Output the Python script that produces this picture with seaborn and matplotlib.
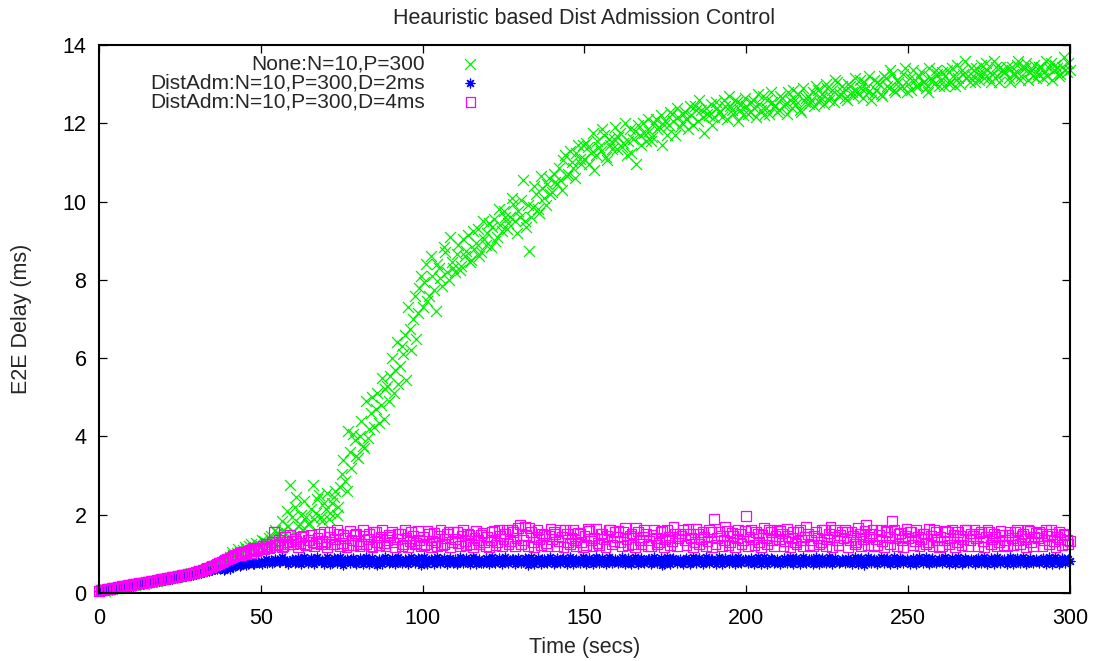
import numpy as np
import pandas as pd
import matplotlib
matplotlib.use("Agg")
import matplotlib.pyplot as plt
import seaborn as sns

# Two samples per second: on the whole second and on the half second
time_s = list(range(0, 301))
time_half = [t + 0.5 for t in range(0, 300)]

# E2E delay (ms) without admission control
none_delay = [
    0.05, 0.08, 0.06, 0.10, 0.11, 0.12, 0.14, 0.15, 0.17, 0.18,
    0.20, 0.21, 0.22, 0.25, 0.24, 0.27, 0.29, 0.30, 0.31, 0.34,
    0.36, 0.35, 0.38, 0.40, 0.41, 0.44, 0.45, 0.46, 0.49, 0.50,
    0.52, 0.55, 0.58, 0.60, 0.64, 0.66, 0.70, 0.74, 0.78, 0.82,
    0.88, 1.05, 0.95, 1.12, 1.00, 1.18, 1.08, 1.25, 1.15, 1.22,
    1.20, 1.32, 1.28, 1.45, 1.30, 1.52, 1.38, 1.60, 2.10, 2.75,
    1.55, 2.45, 1.75, 1.62, 1.95, 1.80, 2.75, 2.05, 2.50, 1.85,
    2.15, 1.90, 2.30, 2.60, 2.20, 3.05, 2.85, 4.15, 3.20, 3.90,
    3.45, 4.40, 3.70, 3.95, 4.60, 4.25, 5.10, 4.80, 4.45, 5.30,
    5.55, 5.10, 6.40, 5.80, 6.10, 5.45, 6.75, 7.00, 6.50, 7.80,
    7.30, 8.40, 7.60, 8.10, 7.20, 8.30, 7.85, 8.70, 8.00, 8.45,
    8.20, 8.90, 8.35, 8.60, 9.15, 8.50, 8.80, 9.30, 8.70, 9.05,
    9.20, 8.85, 9.55, 9.10, 9.40, 9.75, 9.30, 9.60, 9.95, 9.20,
    9.60, 10.55, 9.35, 8.75, 9.85, 10.20, 9.70, 10.35, 9.90, 10.60,
    10.25, 10.50, 10.85, 10.30, 11.20, 10.70, 11.00, 10.60, 11.45, 10.95,
    11.10, 11.40, 11.25, 10.80, 11.55, 11.30, 11.70, 11.05, 11.45, 11.60,
    11.35, 11.75, 11.50, 11.20, 11.85, 11.60, 10.95, 11.70, 12.00, 11.55,
    11.80, 11.65, 12.10, 11.90, 11.45, 12.05, 11.95, 12.25, 11.70, 12.15,
    12.00, 12.30, 11.85, 12.20, 12.45, 12.05, 12.35, 11.75, 12.25, 12.50,
    12.15, 12.40, 12.30, 12.60, 12.10, 12.45, 12.25, 12.55, 12.35, 12.20,
    12.45, 12.30, 12.60, 12.15, 12.50, 12.70, 12.40, 12.25, 12.55, 12.45,
    12.35, 12.65, 12.50, 12.80, 12.40, 12.60, 12.75, 12.30, 12.55, 12.70,
    12.60, 12.45, 12.85, 12.65, 12.50, 12.90, 12.70, 12.55, 13.05, 12.75,
    12.80, 12.60, 12.95, 12.70, 12.85, 13.10, 12.65, 12.90, 13.20, 12.75,
    12.85, 13.00, 12.70, 13.15, 12.90, 13.25, 12.80, 13.05, 12.95, 13.40,
    13.00, 12.85, 13.10, 12.95, 13.30, 13.05, 12.80, 13.15, 13.00, 13.25,
    13.10, 12.95, 13.35, 13.05, 13.20, 13.50, 13.00, 13.25, 13.15, 13.05,
    13.20, 13.40, 13.10, 13.30, 13.55, 13.15, 13.25, 13.45, 13.05, 13.35,
    13.30, 13.15, 13.45, 13.25, 13.60, 13.20, 13.40, 13.10, 13.35, 13.50,
    13.25, 13.45, 13.30, 13.20, 13.55, 13.35, 13.40, 13.25, 13.70, 13.30,
    13.35,
]
none_delay_half = [
    0.07, 0.09, 0.08, 0.11, 0.13, 0.13, 0.16, 0.16, 0.18, 0.19,
    0.21, 0.22, 0.24, 0.25, 0.26, 0.28, 0.29, 0.31, 0.33, 0.35,
    0.36, 0.38, 0.39, 0.41, 0.43, 0.44, 0.46, 0.48, 0.50, 0.51,
    0.54, 0.57, 0.59, 0.62, 0.65, 0.68, 0.72, 0.76, 0.80, 0.85,
    0.92, 0.98, 1.02, 1.05, 1.10, 1.12, 1.20, 1.15, 1.28, 1.18,
    1.35, 1.25, 1.40, 1.30, 1.62, 1.45, 1.85, 1.50, 1.70, 1.95,
    2.20, 1.70, 2.00, 2.35, 1.75, 2.15, 1.90, 2.40, 1.95, 2.30,
    2.55, 2.05, 2.45, 2.00, 2.70, 3.40, 2.60, 3.60, 4.05, 3.50,
    4.00, 3.75, 4.90, 4.20, 5.00, 4.70, 4.35, 5.50, 5.20, 4.90,
    6.00, 5.70, 5.35, 6.30, 6.60, 7.30, 6.20, 7.60, 7.15, 8.10,
    7.95, 7.45, 8.60, 7.75, 8.40, 8.05, 8.85, 8.20, 9.10, 8.30,
    8.65, 8.25, 9.05, 8.75, 8.45, 9.25, 8.95, 8.60, 9.50, 8.90,
    9.45, 9.35, 9.00, 9.80, 9.25, 9.60, 9.45, 10.10, 9.50, 9.75,
    10.05, 9.50, 9.90, 9.60, 10.40, 9.80, 10.65, 10.10, 10.45, 10.20,
    10.70, 10.45, 10.55, 11.05, 10.65, 11.30, 10.85, 11.25, 11.10, 11.45,
    11.50, 10.95, 11.75, 11.20, 11.40, 11.85, 11.15, 11.60, 11.35, 11.90,
    11.65, 11.40, 12.00, 11.55, 11.25, 11.80, 11.95, 11.45, 11.75, 12.10,
    11.55, 12.00, 11.85, 12.20, 11.95, 11.70, 12.30, 12.05, 12.40, 11.90,
    12.25, 12.10, 12.45, 11.95, 12.35, 12.60, 12.15, 12.40, 12.20, 11.95,
    12.55, 12.30, 12.15, 12.45, 12.70, 12.35, 12.60, 12.05, 12.50, 12.65,
    12.25, 12.55, 12.40, 12.75, 12.35, 12.20, 12.60, 12.80, 12.45, 12.30,
    12.70, 12.45, 12.25, 12.60, 12.85, 12.50, 12.35, 12.90, 12.65, 12.50,
    12.80, 12.95, 12.55, 12.75, 13.00, 12.60, 12.85, 13.10, 12.70, 12.95,
    12.65, 13.00, 12.80, 13.15, 12.75, 12.90, 13.05, 12.80, 12.60, 13.10,
    13.05, 12.75, 13.20, 12.95, 13.35, 12.85, 13.10, 12.90, 13.25, 12.80,
    13.15, 13.35, 12.95, 13.20, 13.05, 12.90, 13.40, 13.10, 13.35, 12.95,
    13.30, 13.20, 13.00, 13.40, 12.95, 13.15, 13.35, 13.60, 13.20, 13.40,
    13.05, 13.25, 13.50, 13.15, 13.35, 13.05, 13.60, 13.20, 13.45, 13.30,
    13.45, 13.05, 13.25, 13.50, 13.10, 13.40, 13.55, 13.30, 13.20, 13.15,
    13.45, 13.15, 13.60, 13.40, 13.10, 13.50, 13.20, 13.45, 13.35, 13.55,
]

# E2E delay (ms) with distributed admission, D=2ms
dist2_delay = [
    0.04, 0.06, 0.07, 0.08, 0.10, 0.11, 0.13, 0.14, 0.16, 0.17,
    0.19, 0.20, 0.22, 0.23, 0.25, 0.26, 0.28, 0.29, 0.31, 0.32,
    0.34, 0.35, 0.37, 0.38, 0.40, 0.41, 0.43, 0.44, 0.46, 0.47,
    0.49, 0.51, 0.53, 0.55, 0.57, 0.59, 0.61, 0.63, 0.64, 0.62,
    0.66, 0.70, 0.68, 0.73, 0.71, 0.76, 0.74, 0.78, 0.75, 0.80,
    0.79, 0.82, 0.77, 0.84, 0.80, 0.83, 0.78, 0.85, 0.81, 0.79,
    0.83, 0.80, 0.86, 0.78, 0.84, 0.81, 0.88, 0.79, 0.83, 0.85,
    0.80, 0.84, 0.77, 0.86, 0.82, 0.79, 0.85, 0.81, 0.87, 0.80,
    0.83, 0.78, 0.86, 0.82, 0.80, 0.85, 0.72, 0.84, 0.81, 0.86,
    0.79, 0.83, 0.88, 0.80, 0.82, 0.85, 0.78, 0.84, 0.81, 0.87,
    0.82, 0.79, 0.85, 0.83, 0.80, 0.86, 0.81, 0.78, 0.84, 0.82,
    0.87, 0.80, 0.83, 0.79, 0.85, 0.82, 0.88, 0.81, 0.77, 0.84,
    0.82, 0.86, 0.80, 0.83, 0.79, 0.85, 0.81, 0.84, 0.88, 0.80,
    0.83, 0.78, 0.86, 0.82, 0.80, 0.84, 0.81, 0.87, 0.79, 0.83,
    0.85, 0.80, 0.82, 0.86, 0.78, 0.84, 0.81, 0.83, 0.79, 0.86,
    0.82, 0.80, 0.85, 0.83, 0.88, 0.79, 0.84, 0.81, 0.86, 0.80,
    0.83, 0.78, 0.85, 0.82, 0.80, 0.87, 0.81, 0.84, 0.79, 0.83,
    0.86, 0.80, 0.82, 0.85, 0.71, 0.83, 0.80, 0.86, 0.81, 0.84,
    0.79, 0.85, 0.82, 0.80, 0.87, 0.83, 0.78, 0.84, 0.81, 0.86,
    0.80, 0.83, 0.85, 0.79, 0.82, 0.86, 0.81, 0.84, 0.78, 0.83,
    0.85, 0.80, 0.82, 0.87, 0.79, 0.84, 0.81, 0.83, 0.86, 0.80,
    0.82, 0.85, 0.79, 0.83, 0.80, 0.86, 0.81, 0.84, 0.78, 0.82,
    0.86, 0.80, 0.83, 0.85, 0.79, 0.82, 0.87, 0.81, 0.84, 0.80,
    0.83, 0.78, 0.85, 0.82, 0.80, 0.86, 0.81, 0.84, 0.79, 0.83,
    0.85, 0.81, 0.82, 0.87, 0.79, 0.84, 0.80, 0.83, 0.86, 0.81,
    0.82, 0.85, 0.79, 0.83, 0.81, 0.86, 0.80, 0.84, 0.78, 0.82,
    0.86, 0.81, 0.83, 0.85, 0.80, 0.82, 0.87, 0.79, 0.84, 0.81,
    0.83, 0.86, 0.80, 0.82, 0.85, 0.79, 0.84, 0.81, 0.87, 0.83,
    0.80, 0.84, 0.82, 0.86, 0.79, 0.83, 0.81, 0.85, 0.80, 0.84,
    0.82, 0.87, 0.80, 0.83, 0.85, 0.81, 0.84, 0.79, 0.86, 0.83,
    0.82,
]
dist2_delay_half = [
    0.05, 0.07, 0.07, 0.09, 0.11, 0.12, 0.13, 0.15, 0.16, 0.18,
    0.19, 0.21, 0.22, 0.24, 0.25, 0.27, 0.28, 0.30, 0.31, 0.33,
    0.34, 0.36, 0.37, 0.39, 0.40, 0.42, 0.43, 0.45, 0.46, 0.48,
    0.50, 0.52, 0.54, 0.56, 0.58, 0.60, 0.62, 0.60, 0.58, 0.64,
    0.62, 0.67, 0.72, 0.69, 0.75, 0.72, 0.78, 0.73, 0.80, 0.77,
    0.74, 0.86, 0.80, 0.76, 0.88, 0.79, 0.91, 0.82, 0.75, 0.87,
    0.76, 0.90, 0.74, 0.92, 0.77, 0.89, 0.73, 0.91, 0.78, 0.75,
    0.91, 0.74, 0.89, 0.76, 0.93, 0.72, 0.88, 0.77, 0.90, 0.74,
    0.89, 0.75, 0.92, 0.73, 0.90, 0.77, 0.88, 0.74, 0.93, 0.76,
    0.90, 0.73, 0.91, 0.76, 0.88, 0.74, 0.92, 0.77, 0.89, 0.72,
    0.91, 0.75, 0.88, 0.73, 0.92, 0.76, 0.90, 0.74, 0.89, 0.77,
    0.73, 0.91, 0.76, 0.89, 0.74, 0.93, 0.75, 0.88, 0.77, 0.90,
    0.74, 0.92, 0.76, 0.89, 0.73, 0.91, 0.77, 0.88, 0.75, 0.90,
    0.76, 0.89, 0.72, 0.92, 0.75, 0.90, 0.74, 0.88, 0.77, 0.91,
    0.73, 0.90, 0.76, 0.89, 0.74, 0.92, 0.75, 0.88, 0.77, 0.91,
    0.75, 0.89, 0.73, 0.91, 0.76, 0.90, 0.74, 0.92, 0.77, 0.88,
    0.76, 0.91, 0.74, 0.89, 0.75, 0.92, 0.73, 0.90, 0.77, 0.88,
    0.74, 0.91, 0.76, 0.89, 0.73, 0.92, 0.75, 0.90, 0.77, 0.88,
    0.75, 0.90, 0.74, 0.92, 0.76, 0.89, 0.73, 0.91, 0.77, 0.88,
    0.74, 0.92, 0.75, 0.89, 0.76, 0.90, 0.73, 0.91, 0.77, 0.88,
    0.76, 0.89, 0.74, 0.91, 0.75, 0.92, 0.73, 0.90, 0.77, 0.88,
    0.74, 0.90, 0.76, 0.92, 0.73, 0.89, 0.75, 0.91, 0.77, 0.88,
    0.75, 0.91, 0.74, 0.89, 0.76, 0.92, 0.73, 0.90, 0.77, 0.88,
    0.76, 0.90, 0.74, 0.92, 0.75, 0.89, 0.72, 0.91, 0.77, 0.88,
    0.74, 0.91, 0.76, 0.89, 0.73, 0.92, 0.75, 0.90, 0.77, 0.88,
    0.75, 0.89, 0.74, 0.91, 0.76, 0.92, 0.73, 0.90, 0.77, 0.88,
    0.76, 0.91, 0.74, 0.89, 0.75, 0.92, 0.73, 0.90, 0.77, 0.88,
    0.74, 0.90, 0.76, 0.92, 0.73, 0.89, 0.75, 0.91, 0.77, 0.88,
    0.75, 0.91, 0.74, 0.89, 0.76, 0.92, 0.73, 0.90, 0.77, 0.88,
    0.76, 0.90, 0.74, 0.91, 0.75, 0.92, 0.73, 0.89, 0.77, 0.88,
]

# E2E delay (ms) with distributed admission, D=4ms
dist4_delay = [
    0.06, 0.08, 0.09, 0.11, 0.12, 0.14, 0.15, 0.17, 0.18, 0.20,
    0.21, 0.23, 0.24, 0.26, 0.27, 0.29, 0.30, 0.32, 0.33, 0.35,
    0.36, 0.38, 0.39, 0.41, 0.42, 0.44, 0.45, 0.47, 0.49, 0.51,
    0.53, 0.56, 0.58, 0.62, 0.65, 0.68, 0.72, 0.76, 0.80, 0.84,
    0.88, 0.92, 0.96, 1.00, 0.98, 1.05, 1.08, 1.02, 1.12, 1.10,
    1.15, 1.12, 1.20, 1.18, 1.55, 1.22, 1.26, 1.20, 1.30, 1.48,
    1.25, 1.32, 1.28, 1.45, 1.22, 1.35, 1.30, 1.27, 1.50, 1.33,
    1.30, 1.42, 1.25, 1.38, 1.52, 1.28, 1.40, 1.22, 1.35, 1.48,
    1.32, 1.26, 1.45, 1.38, 1.20, 1.55, 1.30, 1.42, 1.27, 1.36,
    1.44, 1.29, 1.38, 1.52, 1.24, 1.40, 1.33, 1.47, 1.28, 1.36,
    1.42, 1.25, 1.50, 1.34, 1.30, 1.45, 1.22, 1.39, 1.56, 1.31,
    1.37, 1.28, 1.46, 1.33, 1.52, 1.26, 1.40, 1.35, 1.48, 1.30,
    1.43, 1.36, 1.58, 1.29, 1.45, 1.38, 1.62, 1.32, 1.55, 1.40,
    1.75, 1.35, 1.48, 1.66, 1.30, 1.42, 1.37, 1.52, 1.27, 1.45,
    1.38, 1.50, 1.32, 1.44, 1.60, 1.29, 1.41, 1.35, 1.54, 1.31,
    1.46, 1.64, 1.34, 1.40, 1.28, 1.52, 1.37, 1.45, 1.62, 1.33,
    1.42, 1.30, 1.55, 1.38, 1.47, 1.26, 1.66, 1.36, 1.43, 1.51,
    1.34, 1.48, 1.40, 1.29, 1.58, 1.37, 1.44, 1.32, 1.52, 1.39,
    1.46, 1.35, 1.63, 1.41, 1.30, 1.50, 1.38, 1.44, 1.33, 1.55,
    1.88, 1.40, 1.47, 1.36, 1.58, 1.31, 1.45, 1.39, 1.52, 1.34,
    1.97, 1.42, 1.37, 1.56, 1.30, 1.48, 1.40, 1.62, 1.35, 1.45,
    1.38, 1.52, 1.33, 1.46, 1.41, 1.29, 1.57, 1.36, 1.44, 1.50,
    1.35, 1.47, 1.40, 1.31, 1.60, 1.38, 1.68, 1.43, 1.34, 1.49,
    1.41, 1.55, 1.36, 1.45, 1.30, 1.50, 1.38, 1.74, 1.44, 1.62,
    1.37, 1.48, 1.33, 1.58, 1.42, 1.83, 1.39, 1.51, 1.35, 1.46,
    1.40, 1.56, 1.32, 1.44, 1.38, 1.52, 1.29, 1.47, 1.62, 1.36,
    1.43, 1.34, 1.55, 1.40, 1.48, 1.31, 1.45, 1.38, 1.60, 1.35,
    1.46, 1.39, 1.52, 1.33, 1.44, 1.57, 1.37, 1.42, 1.30, 1.49,
    1.36, 1.48, 1.41, 1.55, 1.34, 1.45, 1.38, 1.62, 1.31, 1.43,
    1.40, 1.52, 1.35, 1.46, 1.60, 1.33, 1.44, 1.38, 1.50, 1.36,
    1.32,
]
dist4_delay_half = [
    0.07, 0.08, 0.10, 0.11, 0.13, 0.14, 0.16, 0.17, 0.19, 0.20,
    0.22, 0.23, 0.25, 0.26, 0.28, 0.29, 0.31, 0.32, 0.34, 0.35,
    0.37, 0.38, 0.40, 0.41, 0.43, 0.45, 0.46, 0.48, 0.50, 0.52,
    0.55, 0.57, 0.60, 0.64, 0.67, 0.70, 0.74, 0.78, 0.82, 0.86,
    0.90, 0.94, 0.98, 1.03, 1.06, 1.00, 1.10, 1.14, 1.08, 1.16,
    1.20, 1.25, 1.14, 1.30, 1.22, 1.35, 1.18, 1.42, 1.25, 1.32,
    1.38, 1.18, 1.42, 1.24, 1.36, 1.48, 1.20, 1.40, 1.26, 1.55,
    1.18, 1.55, 1.24, 1.60, 1.20, 1.48, 1.16, 1.58, 1.22, 1.52,
    1.19, 1.60, 1.25, 1.50, 1.17, 1.57, 1.23, 1.62, 1.20, 1.48,
    1.56, 1.18, 1.52, 1.21, 1.60, 1.16, 1.55, 1.24, 1.58, 1.19,
    1.22, 1.58, 1.17, 1.54, 1.20, 1.62, 1.25, 1.50, 1.18, 1.57,
    1.55, 1.19, 1.60, 1.22, 1.48, 1.17, 1.58, 1.24, 1.53, 1.20,
    1.18, 1.56, 1.23, 1.62, 1.19, 1.52, 1.26, 1.60, 1.21, 1.65,
    1.24, 1.70, 1.20, 1.55, 1.17, 1.60, 1.23, 1.48, 1.19, 1.64,
    1.56, 1.21, 1.60, 1.18, 1.52, 1.25, 1.62, 1.20, 1.50, 1.17,
    1.23, 1.58, 1.19, 1.63, 1.22, 1.50, 1.17, 1.60, 1.24, 1.55,
    1.58, 1.20, 1.66, 1.23, 1.52, 1.18, 1.57, 1.25, 1.60, 1.21,
    1.19, 1.62, 1.24, 1.55, 1.17, 1.60, 1.22, 1.68, 1.20, 1.52,
    1.60, 1.22, 1.50, 1.18, 1.64, 1.25, 1.56, 1.20, 1.62, 1.17,
    1.24, 1.57, 1.19, 1.70, 1.22, 1.54, 1.18, 1.60, 1.25, 1.58,
    1.20, 1.62, 1.23, 1.52, 1.17, 1.66, 1.24, 1.55, 1.19, 1.60,
    1.58, 1.21, 1.64, 1.18, 1.55, 1.25, 1.60, 1.20, 1.68, 1.22,
    1.19, 1.56, 1.24, 1.62, 1.20, 1.52, 1.17, 1.60, 1.23, 1.57,
    1.62, 1.18, 1.55, 1.25, 1.66, 1.20, 1.58, 1.22, 1.52, 1.19,
    1.23, 1.60, 1.17, 1.56, 1.24, 1.62, 1.20, 1.54, 1.18, 1.64,
    1.57, 1.22, 1.60, 1.19, 1.52, 1.25, 1.64, 1.21, 1.55, 1.18,
    1.20, 1.58, 1.24, 1.62, 1.18, 1.55, 1.22, 1.60, 1.19, 1.52,
    1.62, 1.21, 1.56, 1.18, 1.60, 1.24, 1.52, 1.20, 1.58, 1.23,
    1.19, 1.55, 1.22, 1.60, 1.25, 1.52, 1.18, 1.58, 1.21, 1.54,
    1.56, 1.20, 1.60, 1.24, 1.50, 1.18, 1.55, 1.22, 1.48, 1.26,
]

series_labels = [
    "None:N=10,P=300",
    "DistAdm:N=10,P=300,D=2ms",
    "DistAdm:N=10,P=300,D=4ms",
]
x_ticks = [0, 50, 100, 150, 200, 250, 300]
y_ticks = [0, 2, 4, 6, 8, 10, 12, 14]

sns.set_theme(style="ticks")
plt.rcParams["font.family"] = ["Liberation Sans", "DejaVu Sans"]
plt.rcParams["font.size"] = 15.5

fig = plt.figure(figsize=(10.97, 6.61), dpi=100)
ax = fig.add_axes([0.0902, 0.1029, 0.9754 - 0.0902, 0.9319 - 0.1029])


def series_frame(full, half):
    return pd.DataFrame({"t": time_s + time_half, "delay": full + half})


df_none = series_frame(none_delay, none_delay_half)
df_d2 = series_frame(dist2_delay, dist2_delay_half)
df_d4 = series_frame(dist4_delay, dist4_delay_half)

sns.scatterplot(data=df_none, x="t", y="delay", ax=ax, marker="x",
                color="#00ee00", s=62, linewidth=0.9, clip_on=False,
                label=series_labels[0])
sns.scatterplot(data=df_d2, x="t", y="delay", ax=ax, marker=(8, 2, 0),
                color="#0000ff", s=40, linewidth=0.9, clip_on=False,
                label=series_labels[1])
sns.scatterplot(data=df_d4, x="t", y="delay", ax=ax, marker="s",
                facecolor="none", edgecolor="#ff00ff", s=50, linewidth=0.9,
                clip_on=False, label=series_labels[2])

ax.set_xlim(0, 300)
ax.set_ylim(0, 14)
ax.set_xticks(x_ticks)
ax.set_yticks(y_ticks)
ax.tick_params(axis="both", which="both", direction="in", top=True, right=True,
               length=6, width=0.9, colors="black", labelsize=15.5)
ax.tick_params(axis="x", pad=11)
ax.tick_params(axis="y", pad=9)
for sp in ax.spines.values():
    sp.set_visible(True)
    sp.set_linewidth(1.5)
    sp.set_color("black")

ax.set_title("Heauristic based Dist Admission Control", fontsize=15.5, pad=15)
ax.set_xlabel("Time (secs)", fontsize=15.5)
ax.set_ylabel("E2E Delay (ms)", fontsize=15.5)
ax.xaxis.set_label_coords(0.5, -0.08)
ax.yaxis.set_label_coords(-0.069, 0.5)

ax.legend(loc="upper right", bbox_to_anchor=(0.404, 0.983), frameon=False,
          markerfirst=False, borderaxespad=0, borderpad=0,
          handletextpad=1.2, handlelength=2.0, labelspacing=0.0,
          fontsize=15)

fig.savefig("out.png", dpi=100, facecolor="white")
